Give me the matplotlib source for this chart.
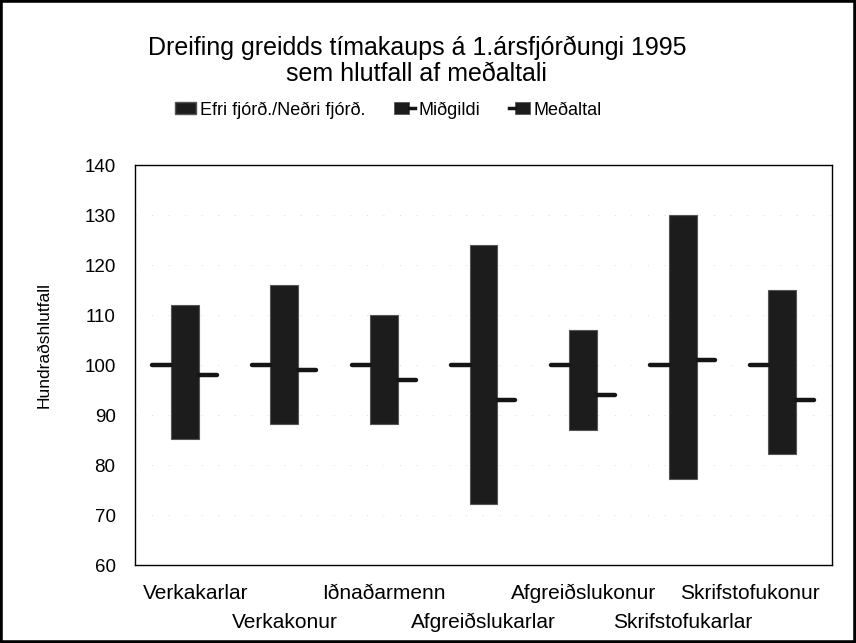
"""Dreifing greidds tímakaups - efri/neðri fjórðungur, miðgildi og meðaltal."""
import matplotlib

matplotlib.use("Agg")
import matplotlib.pyplot as plt
import numpy as np
from matplotlib.legend_handler import HandlerBase
from matplotlib.lines import Line2D
from matplotlib.patches import Patch, Rectangle

plt.rcParams["font.family"] = ["Liberation Sans", "DejaVu Sans"]

categories = [
    "Verkakarlar",
    "Verkakonur",
    "Iðnaðarmenn",
    "Afgreiðslukarlar",
    "Afgreiðslukonur",
    "Skrifstofukarlar",
    "Skrifstofukonur",
]
upper_quartile = [112, 116, 110, 124, 107, 130, 115]
lower_quartile = [85.3, 88.3, 88.2, 72.2, 87.1, 77.2, 82.2]
median = [98, 99, 97, 93, 94, 101, 93]
mean = [100, 100, 100, 100, 100, 100, 100]
y_ticks = [60, 70, 80, 90, 100, 110, 120, 130, 140]

bar_color = "#1c1c1c"
line_color = "#151515"


class StubHandler(HandlerBase):
    """Legend key: small square with a short line stub on one side."""

    def __init__(self, side):
        super().__init__()
        self.side = side

    def create_artists(self, legend, orig_handle, xdescent, ydescent, width, height,
                       fontsize, trans):
        sq_w = width * 0.72
        y_mid = height / 2 - ydescent
        if self.side == "right":
            sq_x, stub = 0, (sq_w, width)
        else:
            sq_x, stub = width - sq_w, (0, width - sq_w)
        rect = Rectangle((sq_x - xdescent, -ydescent), sq_w, height,
                         facecolor=bar_color, edgecolor="#555555", lw=0.6, transform=trans)
        line = Line2D([stub[0] - xdescent, stub[1] - xdescent], [y_mid, y_mid],
                      color=line_color, lw=2.5, transform=trans)
        return [rect, line]


fig = plt.figure(figsize=(8.56, 6.43), dpi=100)
ax = fig.add_axes([0.1577, 0.1213, 0.8143, 0.622])

x = np.arange(len(categories))
lo = np.array(lower_quartile)
hi = np.array(upper_quartile)

ax.bar(x, hi - lo, bottom=lo, width=0.28, color=bar_color, edgecolor="#555555",
       linewidth=0.8, zorder=2)
ax.hlines(mean, x - 0.325, x - 0.14, color=line_color, linewidth=3.2,
          capstyle="round", zorder=3)
ax.hlines(median, x + 0.14, x + 0.32, color=line_color, linewidth=3.2,
          capstyle="round", zorder=3)

ax.set_xlim(-0.5, len(categories) - 0.5)
ax.set_ylim(60, 140)
ax.set_yticks(y_ticks)
ax.tick_params(axis="y", length=0, pad=14, labelsize=13.5)
ax.set_xticks([])
ax.yaxis.grid(True, color="#dcdcdc", linestyle=(0, (1, 16)), linewidth=0.7)
ax.set_axisbelow(True)
for spine in ax.spines.values():
    spine.set_color("black")
    spine.set_linewidth(1.0)

ax.set_ylabel("Hundraðshlutfall", fontsize=12.5)
ax.yaxis.set_label_coords(-0.12, 0.55)

# staggered category labels, kept inside the plot width
labels = []
for i, name in enumerate(categories):
    y_off = -0.072 if i % 2 == 0 else -0.143
    t = ax.text(i, y_off, name, transform=ax.get_xaxis_transform(),
                ha="center", va="center", fontsize=15)
    labels.append(t)

fig.canvas.draw()
renderer = fig.canvas.get_renderer()
ax_box = ax.get_window_extent(renderer)
px_per_unit = ax_box.width / len(categories)
for t in labels:
    bb = t.get_window_extent(renderer)
    shift = 0.0
    if bb.x0 < ax_box.x0 + 8:
        shift = ax_box.x0 + 8 - bb.x0
    elif bb.x1 > ax_box.x1 - 12:
        shift = ax_box.x1 - 12 - bb.x1
    t.set_x(t.get_position()[0] + shift / px_per_unit)

fig.suptitle("Dreifing greidds tímakaups á 1.ársfjórðungi 1995\nsem hlutfall af meðaltali",
             x=0.487, y=0.905, va="center", fontsize=18, linespacing=1.1)

median_key = Line2D([0], [0])
mean_key = Line2D([0], [0])
handles = [Patch(facecolor=bar_color, edgecolor="#555555"), median_key, mean_key]
fig.legend(handles, ["Efri fjórð./Neðri fjórð.", "Miðgildi", "Meðaltal"],
           handler_map={median_key: StubHandler("right"), mean_key: StubHandler("left")},
           loc="center left", bbox_to_anchor=(0.205, 0.829), ncol=3, frameon=False,
           fontsize=13, handlelength=1.15, handleheight=0.6, handletextpad=0.2,
           columnspacing=1.6, borderpad=0, borderaxespad=0)

fig.add_artist(Rectangle((0, 0), 1, 1, transform=fig.transFigure, fill=False,
                         edgecolor="black", linewidth=4))

fig.savefig("out.png", dpi=100)
